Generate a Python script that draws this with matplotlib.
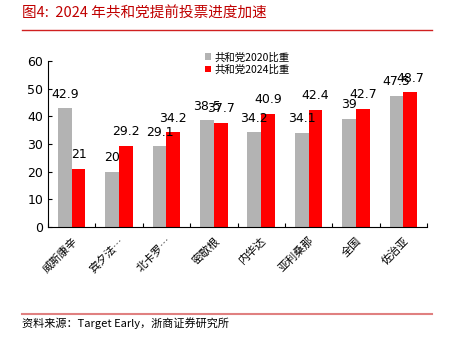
import matplotlib
matplotlib.use("Agg")
import matplotlib.pyplot as plt
import numpy as np

plt.rcParams['font.family'] = ['Noto Sans CJK SC', 'DejaVu Sans']

states = ["威斯康辛", "宾夕法…", "北卡罗…", "密歇根", "内华达", "亚利桑那", "全国", "佐治亚"]
share_2020 = [42.9, 20, 29.1, 38.5, 34.2, 34.1, 39, 47.5]
share_2024 = [21, 29.2, 34.2, 37.7, 40.9, 42.4, 42.7, 48.7]
label_2020 = ["42.9", "20", "29.1", "38.5", "34.2", "34.1", "39", "47.5"]
label_2024 = ["21", "29.2", "34.2", "37.7", "40.9", "42.4", "42.7", "48.7"]

fig = plt.figure(figsize=(4.49, 3.45), dpi=100)
ax = fig.add_axes([48/449, 1 - 227/345, 379/449, 166/345])

x = np.arange(len(states))
w = 0.29
gray, red = "#b3b3b3", "#ff0000"
ax.bar(x - w/2, share_2020, w, color=gray, label="共和党2020比重")
ax.bar(x + w/2, share_2024, w, color=red, label="共和党2024比重")

for xi, v, s in zip(x, share_2020, label_2020):
    ax.text(xi - w/2, v + 2.8, s, ha="center", va="bottom", fontsize=9, family="DejaVu Sans")
for xi, v, s in zip(x, share_2024, label_2024):
    ax.text(xi + w/2, v + 2.8, s, ha="center", va="bottom", fontsize=9, family="DejaVu Sans")

ax.set_xlim(-0.5, len(states) - 0.5)
ax.set_ylim(0, 60)
ax.set_yticks(range(0, 61, 10))
ax.set_xticks(np.arange(-0.5, len(states), 1.0))
ax.set_xticklabels([])
ax.set_xticks(x, minor=True)
ax.set_xticklabels(states, minor=True, rotation=45, ha="right", rotation_mode="anchor", fontsize=8)
ax.tick_params(axis="x", which="minor", length=0, pad=6)
ax.tick_params(axis="x", which="major", length=3, direction="in")
ax.tick_params(axis="y", length=3, direction="in", labelsize=9)
for lab in ax.get_yticklabels():
    lab.set_family("DejaVu Sans")
ax.spines["top"].set_visible(False)
ax.spines["right"].set_visible(False)

ax.legend(loc="upper left", bbox_to_anchor=(0.39, 1.11), frameon=False, fontsize=7.5,
          handlelength=0.6, handleheight=0.6, handletextpad=0.3, labelspacing=0.2)

fig.text(22/449, 1 - 14/345, "图4:  2024 年共和党提前投票进度加速", color="#c00000",
         fontsize=10.5, va="center", ha="left")
fig.add_artist(plt.Line2D([22/449, 432/449], [1 - 30/345, 1 - 30/345], color="#d02020", lw=1))
fig.add_artist(plt.Line2D([22/449, 432/449], [1 - 314/345, 1 - 314/345], color="#e08080", lw=1.5))
fig.text(22/449, 1 - 323/345, "资料来源：Target Early，浙商证券研究所", fontsize=8, va="center", ha="left")

fig.savefig("out.png", dpi=100)
